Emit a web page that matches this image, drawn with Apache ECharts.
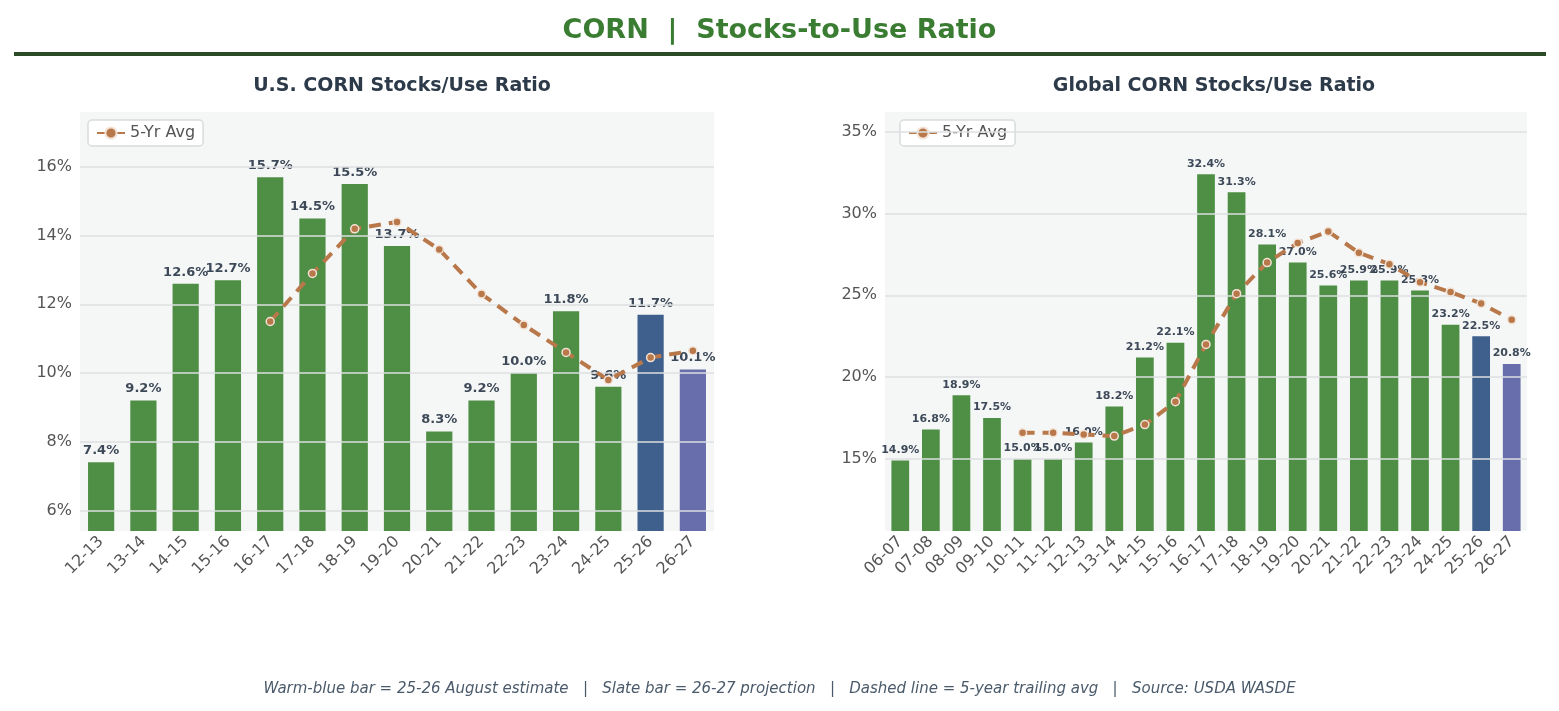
<!DOCTYPE html>
<html>
<head>
<meta charset="UTF-8">
<script src="https://cdn.jsdelivr.net/npm/echarts@6/dist/echarts.min.js"></script>
<style>body{margin:0;background:#fff}#main{width:1559px;height:711px}</style>
</head>
<body>
<div id="main"></div>
<script>
var usCats = ['12-13','13-14','14-15','15-16','16-17','17-18','18-19','19-20','20-21','21-22','22-23','23-24','24-25','25-26','26-27'];
var usVals = [7.4,9.2,12.6,12.7,15.7,14.5,15.5,13.7,8.3,9.2,10.0,11.8,9.6,11.7,10.1];
var usAvg = [null,null,null,null,11.5,12.9,14.2,14.4,13.6,12.3,11.4,10.6,9.8,10.45,10.65];
var usTicks = [6,8,10,12,14,16];
var glCats = ['06-07','07-08','08-09','09-10','10-11','11-12','12-13','13-14','14-15','15-16','16-17','17-18','18-19','19-20','20-21','21-22','22-23','23-24','24-25','25-26','26-27'];
var glVals = [14.9,16.8,18.9,17.5,15.0,15.0,16.0,18.2,21.2,22.1,32.4,31.3,28.1,27.0,25.6,25.9,25.9,25.3,23.2,22.5,20.8];
var glAvg = [null,null,null,null,16.6,16.6,16.5,16.4,17.1,18.5,22.0,25.1,27.0,28.2,28.9,27.6,26.9,25.8,25.2,24.5,23.5];
var glTicks = [15,20,25,30,35];

var FONT = 'DejaVu Sans';
var GREEN = '#3f8535', BLUE = '#2f5283', SLATE = '#5a62a4', LINE = '#b8784a';
function colored(vals){
  var n = vals.length;
  return vals.map(function(v,i){
    var c = i === n-2 ? BLUE : (i === n-1 ? SLATE : GREEN);
    return {value:v, itemStyle:{color:c, opacity:0.92}};
  });
}
function near(v, step){ return Math.abs(v/step - Math.round(v/step)) < 1e-6; }
function yAxis(idx, min, max, step){
  return {type:'value', gridIndex:idx, min:min, max:max, interval:0.2,
    axisLine:{show:false}, axisTick:{show:false}, splitLine:{show:false},
    axisLabel:{color:'#555', fontSize:16, fontFamily:FONT, formatter:function(v){ return near(v,step) ? Math.round(v)+'%' : ''; }}};
}
function xAxis(idx, cats){
  return {type:'category', gridIndex:idx, data:cats, axisLine:{show:false}, axisTick:{show:false},
    axisLabel:{color:'#555', fontSize:16, fontFamily:FONT, rotate:45, interval:0, margin:8}};
}
function gridLines(i, ticks){
  return {type:'line', xAxisIndex:i, yAxisIndex:i, data:[], z:1, silent:true,
    markLine:{silent:true, symbol:'none', label:{show:false}, lineStyle:{color:'#dcdfe0', width:1.5, type:'solid'},
      data:ticks.map(function(t){ return {yAxis:t}; })}};
}
function label(fs){
  return {show:true, position:'top', distance:5, fontWeight:'bold', fontSize:fs, fontFamily:FONT, color:'#2c3a4a', formatter:function(p){ return p.value.toFixed(1)+'%'; }};
}
function avgLine(xi, yi, data, sym){
  return {name:'5-Yr Avg', type:'line', xAxisIndex:xi, yAxisIndex:yi, data:data, z:5,
    lineStyle:{color:LINE, width:4, type:[12,8]}, itemStyle:{color:LINE, borderColor:'#f3e3d6', borderWidth:1.5},
    symbol:'circle', symbolSize:sym, showSymbol:true};
}
function legend(x){
  return {data:['5-Yr Avg'], left:x, top:120, orient:'vertical', backgroundColor:'#fff', borderColor:'#d8dcdc', borderWidth:1.5, borderRadius:4, padding:[5,8], itemWidth:28, textStyle:{color:'#555', fontSize:16, fontFamily:FONT}};
}
var chart = echarts.init(document.getElementById('main'));
chart.setOption({
  animation:false,
  textStyle:{fontFamily:FONT},
  title:[
    {text:'CORN  |  Stocks-to-Use Ratio', left:'center', top:12, textStyle:{color:'#3a7d32', fontSize:27, fontWeight:'bold', fontFamily:FONT}},
    {text:'U.S. CORN Stocks/Use Ratio', left:397, textAlign:'center', top:72, textStyle:{color:'#2c3a4a', fontSize:19, fontWeight:'bold', fontFamily:FONT}},
    {text:'Global CORN Stocks/Use Ratio', left:1209, textAlign:'center', top:72, textStyle:{color:'#2c3a4a', fontSize:19, fontWeight:'bold', fontFamily:FONT}},
    {text:'Warm-blue bar = 25-26 August estimate   |   Slate bar = 26-27 projection   |   Dashed line = 5-year trailing avg   |   Source: USDA WASDE',
      left:'center', top:677, textStyle:{color:'#4a5a6a', fontSize:15, fontStyle:'italic', fontWeight:'normal', fontFamily:FONT}}
  ],
  graphic:[{type:'rect', shape:{x:14, y:52, width:1532, height:4}, style:{fill:'#2b4a26'}}],
  legend:[legend(88), legend(900)],
  grid:[
    {left:80, top:112, width:634, height:419, show:true, backgroundColor:'#f5f7f6', borderWidth:0},
    {left:885, top:112, width:642, height:419, show:true, backgroundColor:'#f5f7f6', borderWidth:0}
  ],
  xAxis:[xAxis(0, usCats), xAxis(1, glCats)],
  yAxis:[yAxis(0, 5.4, 17.6, 2), yAxis(1, 10.6, 36.2, 5)],
  series:[
    gridLines(0, usTicks),
    gridLines(1, glTicks),
    {type:'bar', xAxisIndex:0, yAxisIndex:0, data:colored(usVals), barWidth:'62%', z:2, label:label(13)},
    avgLine(0, 0, usAvg, 8),
    {type:'bar', xAxisIndex:1, yAxisIndex:1, data:colored(glVals), barWidth:'58%', z:2, label:label(11)},
    avgLine(1, 1, glAvg, 8)
  ]
});
</script>
</body>
</html>
